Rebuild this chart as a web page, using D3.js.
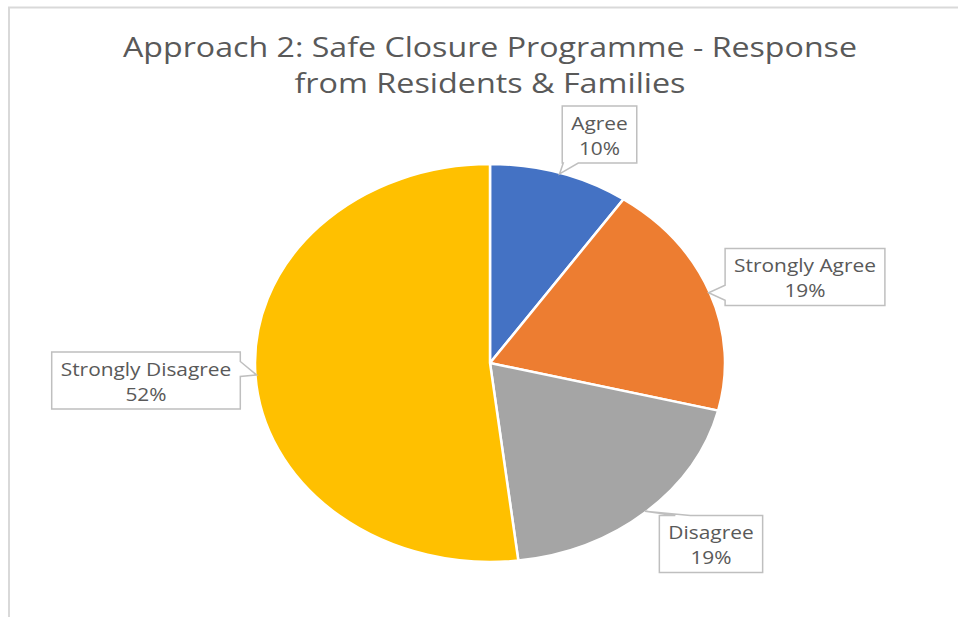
<!DOCTYPE html>
<html>
<head>
<meta charset="utf-8">
<script src="https://cdn.jsdelivr.net/npm/d3@7"></script>
<style>
  html, body { margin: 0; padding: 0; background: #ffffff; }
  svg { display: block; }
</style>
</head>
<body>
<svg id="chart" width="958" height="617"></svg>
<script>
// ---- data ----
const titleLines = ["Approach 2: Safe Closure Programme - Response", "from Residents & Families"];
const categories = ["Agree", "Strongly Agree", "Disagree", "Strongly Disagree"];
const values = [5, 10, 10, 27];          // response counts
const percentLabels = ["10%", "19%", "19%", "52%"];
const colors = ["#4472C4", "#ED7D31", "#A5A5A5", "#FFC000"];

// ---- layout (not data) ----
const W = 958, H = 617;
const cx = 490, cy = 363;
const ry = 199, rx = 235;
const sx = rx / ry;
const labelBoxCenters = [[599.5, 134.5], [805, 277], [711, 544], [146, 380.5]];
const textColor = "#595959";
const fontFamily = "'Open Sans', 'Noto Sans', sans-serif";

const svg = d3.select("#chart");

// border
svg.append("path")
  .attr("d", `M9,${H} L9,7.5 L${W},7.5`)
  .attr("fill", "none").attr("stroke", "#d9d9d9").attr("stroke-width", 2);

// title
const title = svg.append("g");
const titleTargets = [734, 391];
titleLines.forEach((t, i) => {
  title.append("text")
    .attr("x", 490).attr("y", 57 + i * 36)
    .attr("text-anchor", "middle")
    .attr("font-family", fontFamily)
    .attr("font-size", 27)
    .attr("fill", textColor)
    .attr("textLength", titleTargets[i])
    .attr("lengthAdjust", "spacingAndGlyphs")
    .text(t);
});

// pie
const pie = d3.pie().sort(null).value(d => d.value);
const data = categories.map((c, i) => ({ name: c, value: values[i], pct: percentLabels[i], color: colors[i] }));
const arcs = pie(data);
const arc = d3.arc().innerRadius(0).outerRadius(ry);

const pieG = svg.append("g").attr("transform", `translate(${cx},${cy}) scale(${sx},1)`);
pieG.selectAll("path")
  .data(arcs)
  .join("path")
  .attr("d", arc)
  .attr("fill", d => d.data.color)
  .attr("stroke", "#ffffff")
  .attr("stroke-width", 2.5)
  .attr("vector-effect", "non-scaling-stroke");

// labels with callouts
const labelG = svg.append("g");
const k = 1.16; // horizontal stretch of label text
arcs.forEach((d, i) => {
  const mid = (d.startAngle + d.endAngle) / 2;
  const tip = [cx + rx * Math.sin(mid) * 0.995, cy - ry * Math.cos(mid) * 0.995];
  const [bx, by] = labelBoxCenters[i];
  const g = labelG.append("g");
  const path = g.append("path");
  const t1 = g.append("text")
    .attr("x", bx).attr("y", by - 5)
    .attr("text-anchor", "middle")
    .attr("font-family", fontFamily).attr("font-size", 18)
    .attr("fill", textColor).text(d.data.name);
  const t2 = g.append("text")
    .attr("x", bx).attr("y", by + 20)
    .attr("text-anchor", "middle")
    .attr("font-family", fontFamily).attr("font-size", 18)
    .attr("fill", textColor).text(d.data.pct);
  const widths = [t1, t2].map(t => t.node().getComputedTextLength() * k);
  [t1, t2].forEach((t, j) => t.attr("textLength", widths[j]).attr("lengthAdjust", "spacingAndGlyphs"));
  const tw = Math.max(widths[0], widths[1]);
  const bw = tw + 18, bh = 57;
  const x0 = bx - bw / 2, x1 = bx + bw / 2, y0 = by - bh / 2, y1 = by + bh / 2;
  // callout wedge on the edge that faces the tip
  let pts;
  const base = 15;
  const clamp = (v, a, b) => Math.max(a, Math.min(b, v));
  if (tip[1] > y1) { // below -> bottom edge
    const c = clamp(tip[0], x0 + base / 2 + 1, x1 - base / 2 - 1);
    pts = [[x0, y0], [x1, y0], [x1, y1], [c + base / 2, y1], tip, [c - base / 2, y1], [x0, y1]];
  } else if (tip[1] < y0) { // above -> top edge
    const c = clamp(tip[0], x0 + base / 2 + 16, x1 - base / 2 - 1);
    pts = [[x0, y0], [c - base / 2, y0], tip, [c + base / 2, y0], [x1, y0], [x1, y1], [x0, y1]];
  } else if (tip[0] < x0) { // left edge
    const c = clamp(tip[1], y0 + base / 2 + 1, y1 - base / 2 - 1);
    pts = [[x0, y0], [x1, y0], [x1, y1], [x0, y1], [x0, c + base / 2], tip, [x0, c - base / 2]];
  } else { // right edge
    const c = clamp(tip[1] - 6, y0 + base / 2 + 1, y1 - base / 2 - 1);
    pts = [[x0, y0], [x1, y0], [x1, c - base / 2], tip, [x1, c + base / 2], [x1, y1], [x0, y1]];
  }
  path.attr("d", d3.line()(pts) + "Z")
    .attr("fill", "#ffffff")
    .attr("stroke", "#bfbfbf")
    .attr("stroke-width", 1.5);
});
</script>
</body>
</html>
